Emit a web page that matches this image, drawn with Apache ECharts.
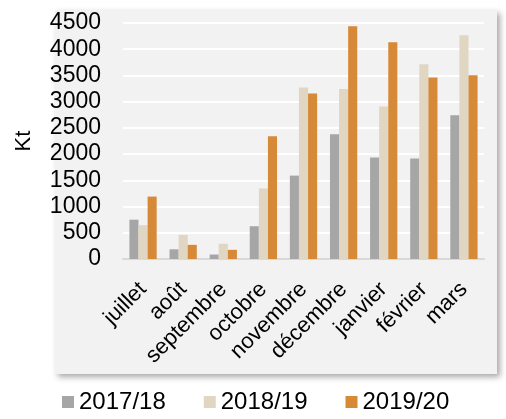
<!DOCTYPE html>
<html>
<head>
<meta charset="utf-8">
<script src="https://cdn.jsdelivr.net/npm/echarts@6/dist/echarts.min.js"></script>
<style>
  html, body { margin: 0; padding: 0; background: #fff; }
  #chart { width: 506px; height: 419px; }
</style>
</head>
<body>
<div id="chart"></div>
<script>
const months = ['juillet', 'août', 'septembre', 'octobre', 'novembre', 'décembre', 'janvier', 'février', 'mars']
const seasons = ['2017/18', '2018/19', '2019/20']
const s2017 = [750, 185, 85, 625, 1590, 2380, 1935, 1915, 2740]
const s2018 = [645, 460, 290, 1345, 3270, 3240, 2910, 3715, 4265]
const s2019 = [1190, 270, 175, 2340, 3155, 4440, 4135, 3460, 3505]
const colors = ['#a6a6a6', '#e0d6c2', '#d68a38']
const font = 'Liberation Sans, Arial, sans-serif'

const chart = echarts.init(document.getElementById('chart'), null, { renderer: 'canvas' })

const series = [s2017, s2018, s2019].map((data, i) => ({
  name: seasons[i],
  type: 'bar',
  data,
  barGap: '0%',
  barCategoryGap: '32%',
  itemStyle: { color: colors[i] },
}))

chart.setOption({
  backgroundColor: '#fff',
  animation: false,
  graphic: [{
    type: 'rect',
    z: -10,
    shape: { x: 55, y: 10, width: 442, height: 364 },
    style: {
      fill: '#f2f2f2',
      shadowColor: 'rgba(0,0,0,0.35)',
      shadowBlur: 6,
      shadowOffsetX: 3,
      shadowOffsetY: 3,
    },
  }],
  grid: { left: 123, right: 22, top: 23, bottom: 160 },
  legend: {
    data: seasons,
    bottom: 0,
    left: 57,
    itemWidth: 12,
    itemHeight: 12,
    itemGap: 38,
    icon: 'rect',
    textStyle: { fontFamily: font, fontSize: 24, color: '#000' },
  },
  xAxis: {
    type: 'category',
    data: months,
    axisLine: { lineStyle: { color: '#d9d9d9', width: 2 } },
    axisTick: { show: false },
    axisLabel: {
      rotate: 45,
      interval: 0,
      margin: 27,
      fontFamily: font,
      fontSize: 22,
      color: '#000',
    },
  },
  yAxis: {
    type: 'value',
    min: 0,
    max: 4500,
    interval: 500,
    name: 'Kt',
    nameLocation: 'middle',
    nameGap: 88,
    nameTextStyle: { fontFamily: font, fontSize: 22, color: '#000' },
    axisLine: { show: false },
    axisTick: { show: false },
    splitLine: { lineStyle: { color: '#fff', width: 2 } },
    axisLabel: {
      margin: 22,
      fontFamily: font,
      fontSize: 23,
      color: '#000',
      formatter: v => String(v),
    },
  },
  series,
})
</script>
</body>
</html>
